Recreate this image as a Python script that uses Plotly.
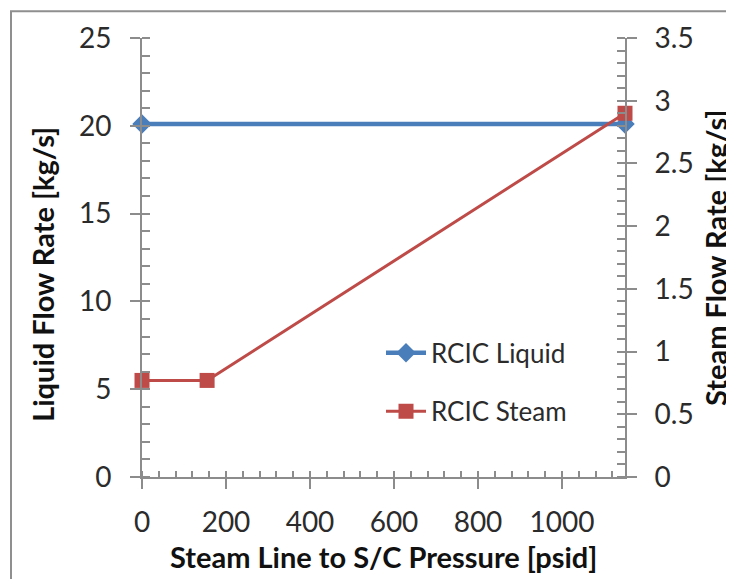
import plotly.graph_objects as go

# ---- data ----
pressure_liquid = [0, 1150]
liquid_flow = [20.1, 20.1]
pressure_steam = [0, 155, 1150]
steam_flow = [0.77, 0.77, 2.90]

x_range = [0, 1150]
y_left_range = [0, 25]
y_right_range = [0, 3.5]

x_title = "Steam Line to S/C Pressure [psid]"
y_left_title = "Liquid Flow Rate [kg/s]"
y_right_title = "Steam Flow Rate [kg/s]"
liquid_name = "RCIC Liquid"
steam_name = "RCIC Steam"

# ---- layout geometry (page pixels; the page body adds an 8px offset) ----
W, H = 734, 579
OFF = 8
L, R, T, B = 142, 625, 34, 477          # plot area in page pixels
pw, ph = R - L, B - T

def px(xp):
    return (xp - L) / pw

def py(yp):
    return (B - yp) / ph

FONT = "Lato, 'Open Sans', sans-serif"
TXT = "#2b2b2b"
AX = "#8c8c8c"
BLUE = "#4A7EBB"
RED = "#BE4B48"

fig = go.Figure()
fig.add_trace(go.Scatter(
    x=pressure_liquid, y=liquid_flow, name=liquid_name, mode="lines+markers",
    line=dict(color=BLUE, width=4.5), marker=dict(symbol="diamond", size=15, color=BLUE),
    cliponaxis=False, legend="legend"))
fig.add_trace(go.Scatter(
    x=pressure_steam, y=steam_flow, name=steam_name, mode="lines+markers",
    line=dict(color=RED, width=3), marker=dict(symbol="square", size=15, color=RED),
    cliponaxis=False, yaxis="y2", legend="legend2"))

tickfont = dict(family=FONT, size=28, color=TXT)
titlefont = dict(family=FONT, size=29, color="#111")
legfont = dict(family=FONT, size=26, color=TXT)

fig.update_layout(
    width=W, height=H,
    margin=dict(l=L - OFF, r=W - (R - OFF), t=T - OFF, b=H - (B - OFF), pad=0),
    paper_bgcolor="white", plot_bgcolor="white",
    showlegend=True,
    xaxis=dict(range=x_range, dtick=200, tick0=0, showgrid=False, zeroline=False,
               showline=True, linecolor=AX, linewidth=2, ticks="outside", ticklen=10,
               tickwidth=2, tickcolor=AX, tickfont=tickfont, ticklabelstandoff=9,
               minor=dict(dtick=40, ticks="inside", ticklen=6, tickwidth=2, tickcolor=AX, showgrid=False),
               anchor="y"),
    yaxis=dict(range=y_left_range, dtick=5, showgrid=False, zeroline=False,
               showline=True, linecolor=AX, linewidth=2, ticks="outside", ticklen=10,
               tickwidth=2, tickcolor=AX, tickfont=tickfont, ticklabelstandoff=13,
               minor=dict(dtick=1, ticks="inside", ticklen=8, tickwidth=2, tickcolor=AX, showgrid=False)),
    yaxis2=dict(range=y_right_range, dtick=0.5, overlaying="y", side="right", showgrid=False,
                zeroline=False, showline=True, linecolor=AX, linewidth=2, ticks="outside",
                ticklen=10, tickwidth=2, tickcolor=AX, tickfont=tickfont, ticklabelstandoff=12,
                minor=dict(dtick=0.1, ticks="inside", ticklen=8, tickwidth=2, tickcolor=AX, showgrid=False),
                anchor="x"),
    # inner halves of crossing major ticks
    xaxis3=dict(range=x_range, dtick=200, overlaying="x", anchor="y", side="bottom",
                showgrid=False, zeroline=False, showline=False, ticks="inside", ticklen=10,
                tickwidth=2, tickcolor=AX, showticklabels=False),
    yaxis3=dict(range=y_left_range, dtick=5, overlaying="y", anchor="x", side="left",
                showgrid=False, zeroline=False, showline=False, ticks="inside", ticklen=10,
                tickwidth=2, tickcolor=AX, showticklabels=False),
    yaxis4=dict(range=y_right_range, dtick=0.5, overlaying="y", anchor="x", side="right",
                showgrid=False, zeroline=False, showline=False, ticks="inside", ticklen=10,
                tickwidth=2, tickcolor=AX, showticklabels=False),
    legend=dict(x=px(381), y=py(328), xanchor="left", yanchor="top", bgcolor="rgba(0,0,0,0)",
                font=legfont, itemwidth=40),
    legend2=dict(x=px(381), y=py(387), xanchor="left", yanchor="top", bgcolor="rgba(0,0,0,0)",
                 font=legfont, itemwidth=40),
    annotations=[
        dict(text=f"<b>{x_title}</b>", xref="paper", yref="paper", x=px(383), y=py(557),
             xanchor="center", yanchor="middle", showarrow=False, font=titlefont),
        dict(text=f"<b>{y_left_title}</b>", xref="paper", yref="paper", x=px(43), y=py(273),
             xanchor="center", yanchor="middle", showarrow=False, textangle=-90, font=titlefont),
        dict(text=f"<b>{y_right_title}</b>", xref="paper", yref="paper", x=px(716), y=py(256),
             xanchor="center", yanchor="middle", showarrow=False, textangle=-90, font=titlefont),
    ],
    shapes=[dict(type="rect", xref="paper", yref="paper", x0=px(11), x1=px(W + 20),
                 y0=py(H + 20), y1=py(7), line=dict(color="#8f8f8f", width=2),
                 fillcolor="rgba(0,0,0,0)", layer="below")],
)

fig.write_html("out.html")
